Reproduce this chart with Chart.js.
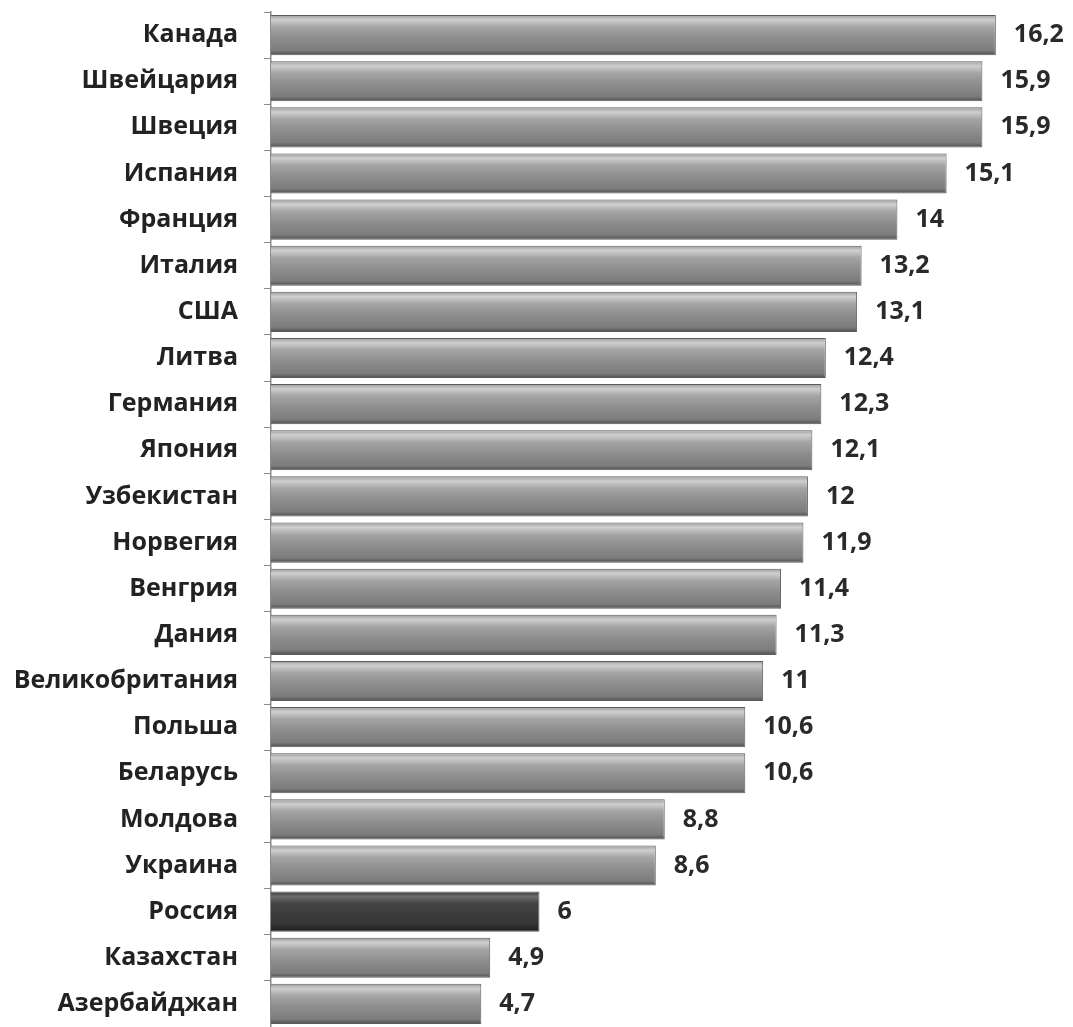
<!DOCTYPE html>
<html>
<head>
<meta charset="utf-8">
<script src="https://cdn.jsdelivr.net/npm/chart.js@4/dist/chart.umd.min.js"></script>
<style>
  html, body { margin: 0; padding: 0; background: #ffffff; }
  #wrap { width: 1073px; height: 1027px; }
</style>
</head>
<body>
<div id="wrap"><canvas id="chart" width="1073" height="1027"></canvas></div>
<script>
// countries, top to bottom
const categories = ['Канада', 'Швейцария', 'Швеция', 'Испания', 'Франция', 'Италия', 'США', 'Литва',
  'Германия', 'Япония', 'Узбекистан', 'Норвегия', 'Венгрия', 'Дания', 'Великобритания', 'Польша',
  'Беларусь', 'Молдова', 'Украина', 'Россия', 'Казахстан', 'Азербайджан'];
const values = [16.2, 15.9, 15.9, 15.1, 14, 13.2, 13.1, 12.4, 12.3, 12.1, 12, 11.9, 11.4, 11.3, 11,
  10.6, 10.6, 8.8, 8.6, 6, 4.9, 4.7];
const highlighted = ['Россия'];

const FONT = '"Open Sans", "DejaVu Sans", sans-serif';

// shaded "cylinder" fill, darker for the highlighted bar
function barFill(context) {
  const chart = context.chart;
  const y = chart.scales.y;
  if (!y || y.top === undefined) return '#8a8a8a';
  const dark = highlighted.includes(categories[context.dataIndex]);
  const band = y.height / categories.length;
  const h = band * 0.87;
  const cy = y.getPixelForValue(context.dataIndex);
  const g = chart.ctx.createLinearGradient(0, cy - h / 2, 0, cy + h / 2);
  if (dark) {
    g.addColorStop(0, '#3c3c3c');
    g.addColorStop(0.12, '#6a6a6a');
    g.addColorStop(0.3, '#444444');
    g.addColorStop(0.8, '#353535');
    g.addColorStop(1, '#1e1e1e');
  } else {
    g.addColorStop(0, '#9c9c9c');
    g.addColorStop(0.12, '#cfcfcf');
    g.addColorStop(0.3, '#a4a4a4');
    g.addColorStop(0.6, '#8c8c8c');
    g.addColorStop(0.88, '#7c7c7c');
    g.addColorStop(1, '#4e4e4e');
  }
  return g;
}

// value labels to the right of each bar
const valueLabels = {
  id: 'valueLabels',
  afterDatasetsDraw(chart) {
    const ctx = chart.ctx;
    const meta = chart.getDatasetMeta(0);
    ctx.save();
    ctx.font = 'bold 25px ' + FONT;
    ctx.fillStyle = '#2a2a2a';
    ctx.textAlign = 'left';
    ctx.textBaseline = 'middle';
    meta.data.forEach((bar, i) => {
      ctx.fillText(String(values[i]).replace('.', ','), bar.x + 18, bar.y);
    });
    ctx.restore();
  }
};

new Chart(document.getElementById('chart'), {
  type: 'bar',
  data: {
    labels: categories,
    datasets: [{
      data: values,
      backgroundColor: barFill,
      borderColor: '#5c5c5c',
      borderWidth: 1,
      barPercentage: 0.87,
      categoryPercentage: 1
    }]
  },
  options: {
    indexAxis: 'y',
    responsive: false,
    devicePixelRatio: 1,
    animation: false,
    layout: { padding: { top: 12, right: 19, bottom: 0, left: 0 } },
    plugins: {
      legend: { display: false },
      tooltip: { enabled: false }
    },
    scales: {
      x: {
        display: false,
        min: 0,
        max: 17.5
      },
      y: {
        afterFit(scale) {
          scale.width = 271;
          scale.paddingTop = 0;
          scale.paddingBottom = 0;
        },
        border: { display: true, color: '#8a8a8a', width: 1.5 },
        grid: { drawOnChartArea: false, drawTicks: true, tickLength: 7, color: '#8a8a8a' },
        ticks: {
          color: '#222222',
          padding: 26,
          font: { family: FONT, weight: 'bold', size: 25 }
        }
      }
    }
  },
  plugins: [valueLabels]
});
</script>
</body>
</html>
